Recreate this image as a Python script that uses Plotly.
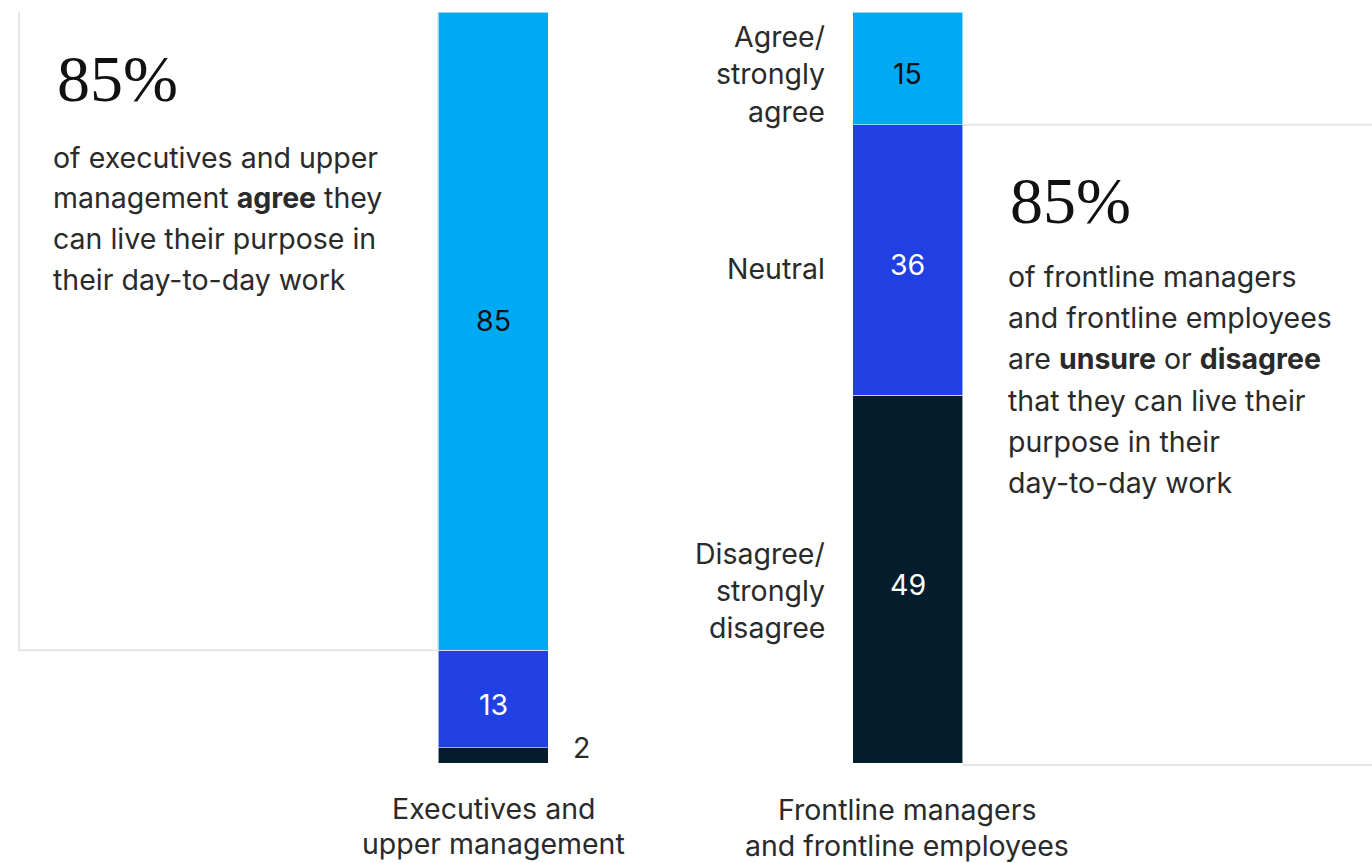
import plotly.graph_objects as go

# ---- data ----
groups = ["Executives and upper management", "Frontline managers and frontline employees"]
group_labels = [["Executives and", "upper management"], ["Frontline managers", "and frontline employees"]]
agree = [85, 15]
neutral = [13, 36]
disagree = [2, 49]
row_labels = {
    "agree": ["Agree/", "strongly", "agree"],
    "neutral": ["Neutral"],
    "disagree": ["Disagree/", "strongly", "disagree"],
}
left_headline = "85%"
left_body = ["of executives and upper", "management <b>agree</b> they", "can live their purpose in", "their day-to-day work"]
right_headline = "85%"
right_body = ["of frontline managers", "and frontline employees", "are <b>unsure</b> or <b>disagree</b>",
              "that they can live their", "purpose in their", "day-to-day work"]

# ---- styles / layout ----
W, H = 1372, 863
MT, MB = 12, 100
C_AGREE, C_NEU, C_DIS = "#00A9F4", "#2140E3", "#051C2C"
TXT = "#2a2a2a"
BODY_FONT = "Inter, Liberation Sans, Arial, sans-serif"
SERIF = "Liberation Serif, DejaVu Serif, serif"
FS = 28.5
unit = 414.5
c0 = 493
xr = [-c0 / unit, (W - c0) / unit]
bw = 110 / unit


def py(y):  # pixel y -> paper y
    return (H - MB - y) / (H - MT - MB)


def px(x):
    return x / W


fig = go.Figure()
seg_line = dict(color="rgba(255,255,255,0.55)", width=1)
for vals, col in [(disagree, C_DIS), (neutral, C_NEU), (agree, C_AGREE)]:
    fig.add_bar(x=groups, y=vals, marker_color=col, marker_line=seg_line, width=bw, hoverinfo="skip")

ann = []

# value labels at segment midpoints
for gi, g in enumerate(groups):
    base = 0
    for si, (vals, col) in enumerate([(disagree, "white"), (neutral, "white"), (agree, "#111111")]):
        v = vals[gi]
        mid = base + v / 2
        base += v
        if v >= 5:
            ys = 11 if (si == 2 and v > 50) else -5
            ann.append(dict(x=g, y=mid, xref="x", yref="y", text=str(v), showarrow=False,
                            yshift=ys, font=dict(size=FS, family=BODY_FONT, color=col)))
        else:
            ann.append(dict(x=g, y=mid, xref="x", yref="y", text=str(v), showarrow=False,
                            xshift=88, yshift=8, font=dict(size=FS, family=BODY_FONT, color=TXT)))


def text(x, y, s, anchor="left", size=FS, family=BODY_FONT, color=TXT):
    ann.append(dict(x=px(x), y=py(y), xref="paper", yref="paper", text=s, showarrow=False,
                    xanchor=anchor, yanchor="middle",
                    font=dict(size=size, family=family, color=color)))


# headline blocks
text(55, 79, left_headline, size=66, family=SERIF, color="#111111")
for i, s in enumerate(left_body):
    text(51, 157 + 40.7 * i, s)
text(1008, 200, right_headline, size=66, family=SERIF, color="#111111")
for i, s in enumerate(right_body):
    text(1006, 276 + 41.4 * i, s)

# row labels (right-aligned, left of second bar)
for i, s in enumerate(row_labels["agree"]):
    text(827, 36 + 37.5 * i, s, anchor="right")
text(827, 268, row_labels["neutral"][0], anchor="right")
for i, s in enumerate(row_labels["disagree"]):
    text(827, 553 + 37 * i, s, anchor="right")

# category labels
for g, (cx, y0) in zip(group_labels, [(493, 808), (907, 810)]):
    for i, s in enumerate(g):
        text(cx, y0 + 35.5 * i, s, anchor="center")

shapes = [
    dict(type="rect", xref="paper", yref="y", x0=px(19), x1=px(438),
         y0=disagree[0] + neutral[0], y1=100.3, line=dict(color="#E6E6E6", width=2),
         fillcolor="rgba(0,0,0,0)", layer="below"),
    dict(type="line", xref="paper", yref="y", x0=px(963), x1=1, y0=disagree[1] + neutral[1],
         y1=disagree[1] + neutral[1], line=dict(color="#E6E6E6", width=2), layer="below"),
    dict(type="line", xref="paper", yref="paper", x0=px(963), x1=1, y0=py(765), y1=py(765),
         line=dict(color="#E6E6E6", width=2), layer="below"),
]

fig.update_layout(
    barmode="stack", width=W, height=H, margin=dict(l=0, r=0, t=MT, b=MB),
    paper_bgcolor="white", plot_bgcolor="white", showlegend=False,
    xaxis=dict(type="category", categoryarray=groups, range=xr, visible=False, fixedrange=True),
    yaxis=dict(range=[0, 100], visible=False, fixedrange=True),
    annotations=ann, shapes=shapes,
)
fig.write_html("out.html", config={"displayModeBar": False})
